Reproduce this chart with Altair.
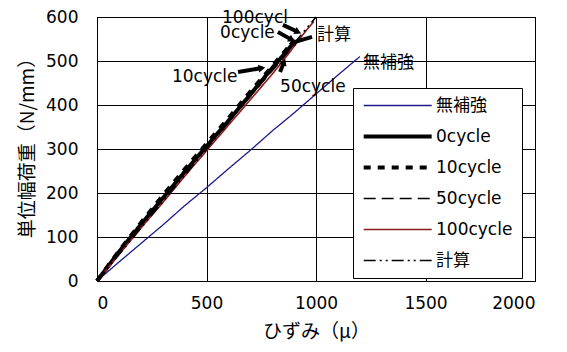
import altair as alt
import pandas as pd
import numpy as np

series_order = ["無補強", "0cycle", "10cycle", "50cycle", "100cycle", "計算"]
series_colors = ["#1a1a8c", "#000000", "#000000", "#000000", "#8b1a1a", "#000000"]
series_dash = [[1, 0], [1, 0], [7, 7], [12, 6], [1, 0], [12, 4, 2, 4, 2, 4]]
series_width = [1.3, 4, 4, 1.6, 1.6, 1.6]

x_mu = [0, 100, 200, 300, 400, 500, 600, 700, 800, 900, 1000, 1100, 1200]
y_unreinforced = [0, 43, 85, 127, 171, 212, 255, 297, 341, 382, 425, 468, 510]

x_c0 = [0, 100, 200, 300, 400, 500, 600, 700, 800, 900]
y_c0 = [0, 66, 128, 188, 248, 306, 364, 424, 484, 542]

x_c10 = [0, 100, 200, 300, 400, 500, 600, 700, 800, 880]
y_c10 = [0, 68, 132, 194, 254, 312, 370, 430, 488, 535]

x_c50 = [0, 100, 200, 300, 400, 500, 600, 700, 800, 900]
y_c50 = [0, 64, 126, 186, 246, 304, 362, 420, 478, 535]

x_c100 = [0, 100, 200, 300, 400, 500, 600, 700, 800, 880, 940, 990]
y_c100 = [0, 60, 120, 178, 238, 296, 354, 412, 470, 520, 560, 590]

x_calc = [0, 1000]
y_calc = [0, 600]

label_text = ["100cycl", "0cycle", "10cycle", "50cycle", "計算", "無補強"]
label_x = [571, 562, 342, 836, 1005, 1215]
label_y = [597, 563, 464, 441, 559, 495]

arrow_x = [849, 826, 982, 644, 836]
arrow_y = [582, 566, 555, 475, 475]
arrow_x2 = [918, 890, 890, 753, 854]
arrow_y2 = [566, 548, 541, 484, 498]

FONT = "DejaVu Sans, Noto Sans CJK JP"
TFONT = "Noto Sans CJK JP"

width_of = dict(zip(series_order, series_width))
rows = []
for name, xs, ys in [
    ("無補強", x_mu, y_unreinforced),
    ("0cycle", x_c0, y_c0),
    ("10cycle", x_c10, y_c10),
    ("50cycle", x_c50, y_c50),
    ("100cycle", x_c100, y_c100),
    ("計算", x_calc, y_calc),
]:
    for i, (a, b) in enumerate(zip(xs, ys)):
        rows.append({"series": name, "x": a, "y": b, "i": i, "sw": width_of[name]})
df = pd.DataFrame(rows)

xs = alt.Scale(domain=[0, 2000], nice=False)
ys = alt.Scale(domain=[0, 600], nice=False)

legend_sw = ("datum.value === '0cycle' || datum.value === '10cycle' ? 4 : "
             "(datum.value === '無補強' ? 1.3 : 1.6)")

lines = alt.Chart(df).mark_line().encode(
    x=alt.X("x:Q", scale=xs,
            axis=alt.Axis(values=[0, 500, 1000, 1500, 2000], format="d", title="ひずみ（μ）")),
    y=alt.Y("y:Q", scale=ys,
            axis=alt.Axis(values=[0, 100, 200, 300, 400, 500, 600], format="d",
                          title="単位幅荷重（N/mm）", titleY=126)),
    order="i:Q",
    color=alt.Color("series:N", sort=series_order,
                    scale=alt.Scale(domain=series_order, range=series_colors),
                    title=None,
                    legend=alt.Legend(symbolStrokeWidth={"expr": legend_sw})),
    strokeDash=alt.StrokeDash("series:N", sort=series_order,
                              scale=alt.Scale(domain=series_order, range=series_dash),
                              title=None),
    strokeWidth=alt.StrokeWidth("sw:Q", scale=None),
)

lab_df = pd.DataFrame({"t": label_text, "x": label_x, "y": label_y})
labels = alt.Chart(lab_df).mark_text(
    align="left", baseline="middle", fontSize=17, font=FONT, color="black"
).encode(x="x:Q", y="y:Q", text="t:N")

arr_df = pd.DataFrame({"x": arrow_x, "y": arrow_y, "x2": arrow_x2, "y2": arrow_y2})
dxp = (arr_df["x2"] - arr_df["x"]) * 0.219
dyp = -(arr_df["y2"] - arr_df["y"]) * 0.44
arr_df["ang"] = (np.degrees(np.arctan2(dxp, -dyp)) + 360) % 360

arrows = alt.Chart(arr_df).mark_rule(color="black", strokeWidth=4).encode(
    x="x:Q", y="y:Q", x2="x2:Q", y2="y2:Q"
)
heads = alt.Chart(arr_df).mark_point(
    shape="triangle-up", filled=True, color="black", size=60, opacity=1
).encode(x="x2:Q", y="y2:Q", angle=alt.Angle("ang:Q", scale=None))

chart = alt.layer(lines, arrows, heads, labels).properties(
    width=438, height=264,
    autosize=alt.AutoSizeParams(type="none"),
    padding={"left": 89, "top": 9, "right": 24, "bottom": 63},
).configure_view(
    stroke="black", strokeWidth=1
).configure_axis(
    grid=True, gridColor="#000000", gridOpacity=1, gridWidth=1,
    domainColor="black", ticks=False,
    labelFont=FONT, labelFontSize=17, labelColor="black",
    titleFont=TFONT, titleFontSize=19, titleColor="black", titleFontWeight="normal",
).configure_axisX(
    labelPadding=14, titlePadding=11,
).configure_axisY(
    labelPadding=19, titlePadding=8,
).configure_legend(
    orient="none", legendX=256, legendY=71,
    strokeColor="black", fillColor="white", padding=9,
    symbolType="M-1,0H9", symbolSize=185,
    labelFont=FONT, labelFontSize=17, labelColor="black", labelOffset=57,
    rowPadding=13,
)

chart.save("out.html", embed_options={"renderer": "svg", "actions": False})
